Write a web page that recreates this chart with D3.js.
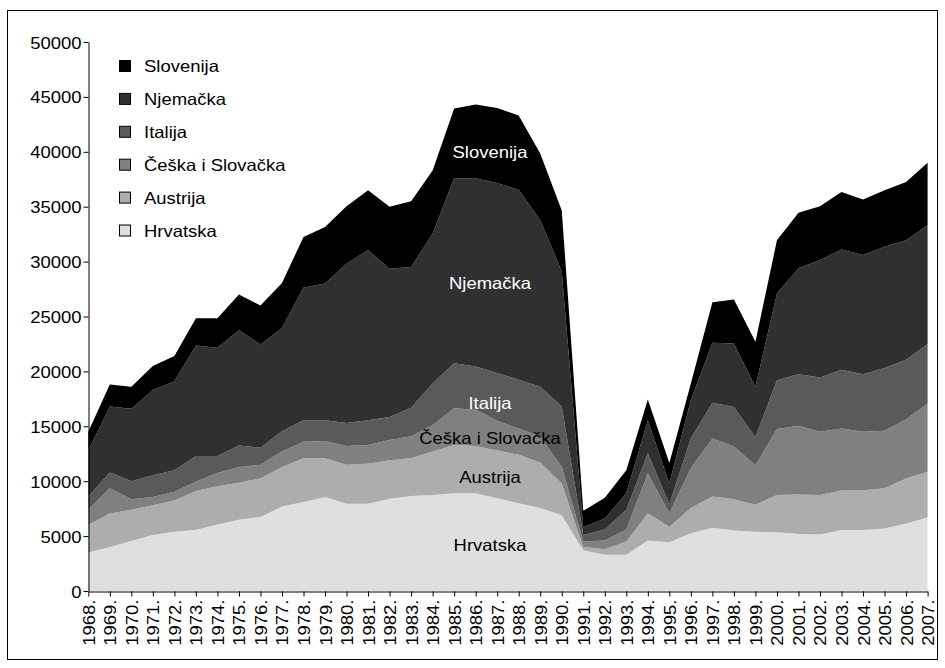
<!DOCTYPE html>
<html lang="hr">
<head>
<meta charset="UTF-8">
<title>Stacked area chart 1968-2007</title>
<script src="https://d3js.org/d3.v7.min.js"></script>
<style>
  body { margin: 0; background: #fff; }
  text { font-family: "Liberation Sans", Arial, sans-serif; }
</style>
</head>
<body>
<svg id="chart" width="945" height="668"></svg>
<script>
// years on the x axis
const years = [1968, 1969, 1970, 1971, 1972, 1973, 1974, 1975, 1976, 1977,
               1978, 1979, 1980, 1981, 1982, 1983, 1984, 1985, 1986, 1987,
               1988, 1989, 1990, 1991, 1992, 1993, 1994, 1995, 1996, 1997,
               1998, 1999, 2000, 2001, 2002, 2003, 2004, 2005, 2006, 2007];

// series, bottom to top
const hrvatska  = [3500, 4000, 4550, 5100, 5400, 5550, 6050, 6500, 6750, 7700,
                   8100, 8550, 7950, 7950, 8400, 8650, 8750, 8900, 8900, 8450,
                   8000, 7550, 6900, 3700, 3300, 3300, 4600, 4450, 5250, 5750,
                   5500, 5400, 5350, 5200, 5150, 5550, 5550, 5700, 6150, 6700];
const austrija  = [2500, 3050, 2850, 2700, 2850, 3550, 3500, 3350, 3500, 3600,
                   4000, 3550, 3550, 3650, 3500, 3450, 3950, 4400, 4300, 4350,
                   4400, 4150, 2900, 300, 500, 1200, 2450, 1400, 2300, 2850,
                   2850, 2450, 3400, 3600, 3600, 3600, 3600, 3650, 4100, 4150];
const ceska     = [1400, 2300, 950, 750, 800, 850, 1200, 1450, 1250, 1400,
                   1500, 1550, 1700, 1700, 1850, 2000, 2400, 3350, 3300, 2700,
                   2400, 2350, 1500, 500, 800, 1100, 3650, 1230, 3650, 5300,
                   4800, 3600, 6000, 6250, 5750, 5650, 5350, 5250, 5400, 6200];
const italija   = [1200, 1450, 1650, 2000, 1950, 2350, 1550, 1950, 1550, 1850,
                   1950, 1900, 2100, 2250, 2100, 2600, 3800, 4100, 3950, 4350,
                   4450, 4550, 5500, 600, 1000, 1800, 1850, 820, 2700, 3250,
                   3600, 2550, 4450, 4700, 4950, 5350, 5250, 5700, 5400, 5450];
const njemacka  = [4200, 6000, 6600, 7750, 8100, 10050, 9850, 10500, 9400, 9400,
                   12100, 12450, 14500, 15500, 13500, 12800, 13650, 16850, 17150, 17300,
                   17300, 15200, 12300, 700, 1000, 1500, 3000, 1900, 3500, 5450,
                   5800, 4600, 7900, 9650, 10700, 10950, 10850, 11050, 10900, 10800];
const slovenija = [1700, 2000, 2000, 2200, 2300, 2500, 2700, 3250, 3550, 4100,
                   4600, 5150, 5250, 5450, 5650, 6000, 5750, 6350, 6700, 6850,
                   6750, 6050, 5550, 1500, 1900, 2100, 1900, 1850, 1500, 3700,
                   4000, 4100, 4850, 5050, 4900, 5250, 5050, 5150, 5300, 5700];

const seriesNames = ["Hrvatska", "Austrija", "Češka i Slovačka", "Italija", "Njemačka", "Slovenija"];
const seriesData  = [hrvatska, austrija, ceska, italija, njemacka, slovenija];
const seriesFill  = ["#dfdfdf", "#adadad", "#808080", "#5a5a5a", "#303030", "#000000"];
const yTicks = [0, 5000, 10000, 15000, 20000, 25000, 30000, 35000, 40000, 45000, 50000];

// build rows for d3.stack
const rows = years.map((yr, i) => {
    const r = { year: yr };
    seriesNames.forEach((n, k) => r[n] = seriesData[k][i]);
    return r;
});

const svg = d3.select("#chart");
const fs = 16.5, sx = 1.12;   // the source text is a little wide

// outer frame
svg.append("rect")
    .attr("x", 7.5).attr("y", 10.5)
    .attr("width", 930).attr("height", 649)
    .attr("fill", "none").attr("stroke", "#000").attr("stroke-width", 1);

const x = d3.scaleLinear().domain([1968, 2007]).range([88.3, 927.6]);
const y = d3.scaleLinear().domain([0, 50000]).range([591, 42]);

const stack = d3.stack().keys(seriesNames);
const layers = stack(rows);

const area = d3.area()
    .x(d => x(d.data.year))
    .y0(d => y(d[0]))
    .y1(d => y(d[1]));

svg.append("g").selectAll("path")
    .data(layers)
  .enter().append("path")
    .attr("fill", (d, i) => seriesFill[i])
    .attr("d", area);

// y axis
const yAxis = svg.append("g")
    .attr("transform", "translate(88.5,0)")
    .call(d3.axisLeft(y).tickValues(yTicks).tickSize(5).tickSizeOuter(0).tickFormat(d3.format("d")));
yAxis.select(".domain").attr("stroke", "#000");
yAxis.selectAll(".tick line").attr("stroke", "#000");
yAxis.selectAll(".tick text")
    .attr("x", null).attr("dy", null)
    .attr("font-size", fs).attr("fill", "#000")
    .attr("font-family", null)
    .attr("transform", `translate(-7,6) scale(${sx},1)`);

// x axis
const xAxis = svg.append("g")
    .attr("transform", "translate(0,591.5)")
    .call(d3.axisBottom(x).tickValues(years).tickSize(5).tickSizeOuter(0).tickFormat(d => d + "."));
xAxis.select(".domain").attr("stroke", "#000");
xAxis.selectAll(".tick line").attr("stroke", "#000");
xAxis.selectAll(".tick text")
    .attr("x", null).attr("y", null).attr("dy", null)
    .attr("font-size", fs).attr("fill", "#000")
    .attr("font-family", null)
    .style("text-anchor", "end")
    .attr("transform", `translate(6,8) rotate(-90) scale(${sx},1)`);

// legend (top series first)
const legend = svg.append("g");
const legendOrder = seriesNames.map((n, i) => i).reverse();
legendOrder.forEach((k, row) => {
    const cy = 66 + row * 32.9;
    legend.append("rect")
        .attr("x", 119.5).attr("y", cy - 5.5)
        .attr("width", 11).attr("height", 11)
        .attr("fill", seriesFill[k]).attr("stroke", "#000").attr("stroke-width", 1);
    legend.append("text")
        .attr("transform", `translate(144,${cy + 6}) scale(${sx},1)`)
        .attr("font-size", fs)
        .text(seriesNames[k]);
});

// labels inside the areas
const inLabels = [
    { name: "Slovenija", cy: 152, col: "#fff" },
    { name: "Njemačka", cy: 283, col: "#fff" },
    { name: "Italija", cy: 403, col: "#fff" },
    { name: "Češka i Slovačka", cy: 438, col: "#000" },
    { name: "Austrija", cy: 477, col: "#000" },
    { name: "Hrvatska", cy: 545, col: "#000" }
];
inLabels.forEach(l => {
    svg.append("text")
        .attr("transform", `translate(490,${l.cy + 6}) scale(${sx},1)`)
        .attr("text-anchor", "middle")
        .attr("font-size", fs)
        .attr("fill", l.col)
        .text(l.name);
});
</script>
</body>
</html>
